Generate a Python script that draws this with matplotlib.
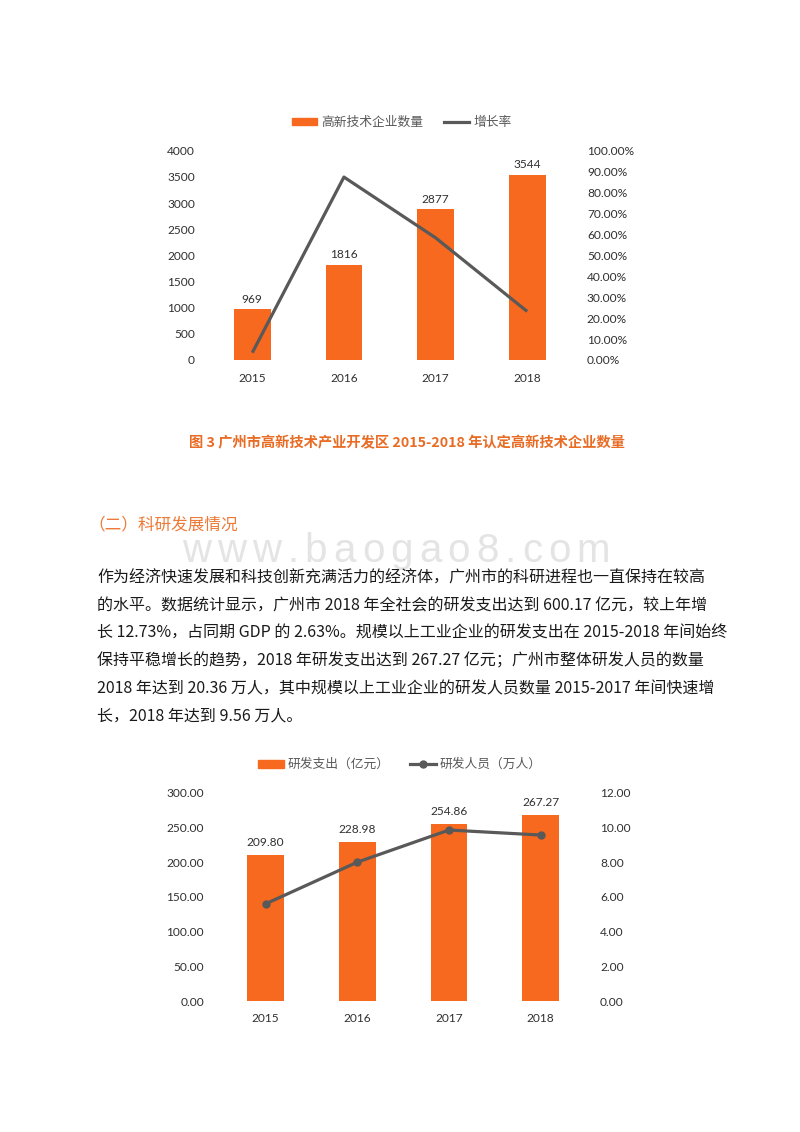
import matplotlib
matplotlib.use("Agg")
import matplotlib.pyplot as plt
from matplotlib.lines import Line2D
from matplotlib.patches import Patch
from matplotlib.ticker import FuncFormatter

W, H = 800, 1132

years = ["2015", "2016", "2017", "2018"]
firm_counts = [969, 1816, 2877, 3544]
firm_growth = [3.5, 87.4, 58.4, 23.2]  # %
rd_spend = [209.80, 228.98, 254.86, 267.27]  # 亿元
rd_staff = [5.6, 8.0, 9.85, 9.56]  # 万人

caption = "图 3 广州市高新技术产业开发区 2015-2018 年认定高新技术企业数量"
heading = "（二）科研发展情况"
body_lines = [
    "作为经济快速发展和科技创新充满活力的经济体，广州市的科研进程也一直保持在较高",
    "的水平。数据统计显示，广州市 2018 年全社会的研发支出达到 600.17 亿元，较上年增",
    "长 12.73%，占同期 GDP 的 2.63%。规模以上工业企业的研发支出在 2015-2018 年间始终",
    "保持平稳增长的趋势，2018 年研发支出达到 267.27 亿元；广州市整体研发人员的数量",
    "2018 年达到 20.36 万人，其中规模以上工业企业的研发人员数量 2015-2017 年间快速增",
    "长，2018 年达到 9.56 万人。",
]
watermark = "www.baogao8.com"

ORANGE = "#F7691F"
GREY = "#595959"
TICK = "#303030"
CJK = ["Noto Sans CJK SC", "DejaVu Sans"]

plt.rcParams["font.family"] = ["Lato", "Noto Sans CJK SC"]

fig = plt.figure(figsize=(8, 11.32), dpi=100)


def px_axes(x0, y0, x1, y1):
    """Add axes from pixel box (top-left origin)."""
    return fig.add_axes([x0 / W, 1 - y1 / H, (x1 - x0) / W, (y1 - y0) / H])


def style_axes(ax, left_pad, bottom_pad):
    for s in ax.spines.values():
        s.set_visible(False)
    ax.tick_params(length=0, labelsize=8.6, colors=TICK)
    ax.tick_params(axis="y", pad=left_pad)
    ax.tick_params(axis="x", pad=bottom_pad)


x = list(range(len(years)))

# ---- chart 1: high-tech firms ----
ax1 = px_axes(206.5, 150.7, 573, 360)
bars1 = ax1.bar(x, firm_counts, width=0.4, color=ORANGE, zorder=1)
ax1.set_xlim(-0.5, 3.5)
ax1.set_ylim(0, 4000)
ax1.set_yticks(range(0, 4001, 500))
ax1.set_xticks(x, years)
style_axes(ax1, 8.3, 9)
ax1.bar_label(bars1, labels=[str(v) for v in firm_counts], padding=3.4,
              fontsize=8.6, color=TICK)

ax1b = ax1.twinx()
ax1b.plot(x, firm_growth, color=GREY, lw=2.3, solid_capstyle="butt")
ax1b.set_ylim(0, 100)
ax1b.set_yticks(range(0, 101, 10))
ax1b.yaxis.set_major_formatter(FuncFormatter(lambda v, p: f"{v:.2f}%"))
style_axes(ax1b, 10, 9)

fig.legend(
    handles=[Patch(color=ORANGE), Line2D([], [], color=GREY, lw=2.3)],
    labels=["高新技术企业数量", "增长率"],
    loc="center", bbox_to_anchor=(401.5 / W, 1 - 122 / H), ncol=2,
    frameon=False, fontsize=9.2, handlelength=2.0, handleheight=0.55,
    handletextpad=0.3, columnspacing=1.6, labelcolor=GREY,
)

fig.text(407 / W, 1 - 443 / H, caption, ha="center", va="center",
         color="#E96C25", fontsize=10.3, weight="bold", family=CJK)

# ---- text block ----
fig.text(88 / W, 1 - 525 / H, heading, ha="left", va="center",
         color="#EC7A38", fontsize=12, family=CJK)

renderer = fig.canvas.get_renderer()
wm_texts = []
for ch in watermark:
    t = fig.text(0, 1 - 562 / H, ch, fontsize=29, color="#E4E4E4",
                 family="Liberation Sans", ha="left", va="baseline", zorder=0)
    wm_texts.append(t)
widths = [t.get_window_extent(renderer).width for t in wm_texts]
gap = (428 - sum(widths)) / (len(widths) - 1)
cx = 182
for t, w in zip(wm_texts, widths):
    t.set_x(cx / W)
    cx += w + gap

for i, line in enumerate(body_lines):
    fig.text(97 / W, 1 - (578.5 + 27.5 * i) / H, line, ha="left", va="center",
             color="#1A1A1A", fontsize=11.5, family=CJK, zorder=2)

# ---- chart 2: R&D spending and staff ----
ax2 = px_axes(219.9, 792.7, 586.5, 1001)
bars2 = ax2.bar(x, rd_spend, width=0.4, color=ORANGE, zorder=1)
ax2.set_xlim(-0.5, 3.5)
ax2.set_ylim(0, 300)
ax2.set_yticks(range(0, 301, 50))
ax2.yaxis.set_major_formatter(FuncFormatter(lambda v, p: f"{v:.2f}"))
ax2.set_xticks(x, years)
style_axes(ax2, 11.5, 9)
ax2.bar_label(bars2, labels=[f"{v:.2f}" for v in rd_spend], padding=5.2,
              fontsize=8.6, color=TICK)

ax2b = ax2.twinx()
ax2b.plot(x, rd_staff, color=GREY, lw=2.3, marker="o", ms=5)
ax2b.set_ylim(0, 12)
ax2b.set_yticks(range(0, 13, 2))
ax2b.yaxis.set_major_formatter(FuncFormatter(lambda v, p: f"{v:.2f}"))
style_axes(ax2b, 9.7, 9)

fig.legend(
    handles=[Patch(color=ORANGE),
             Line2D([], [], color=GREY, lw=2.3, marker="o", ms=5)],
    labels=["研发支出（亿元）", "研发人员（万人）"],
    loc="center", bbox_to_anchor=(400 / W, 1 - 764 / H), ncol=2,
    frameon=False, fontsize=9.2, handlelength=2.0, handleheight=0.55,
    handletextpad=0.3, columnspacing=1.6, labelcolor=GREY,
)

fig.savefig("out.png", dpi=100, facecolor="white")
